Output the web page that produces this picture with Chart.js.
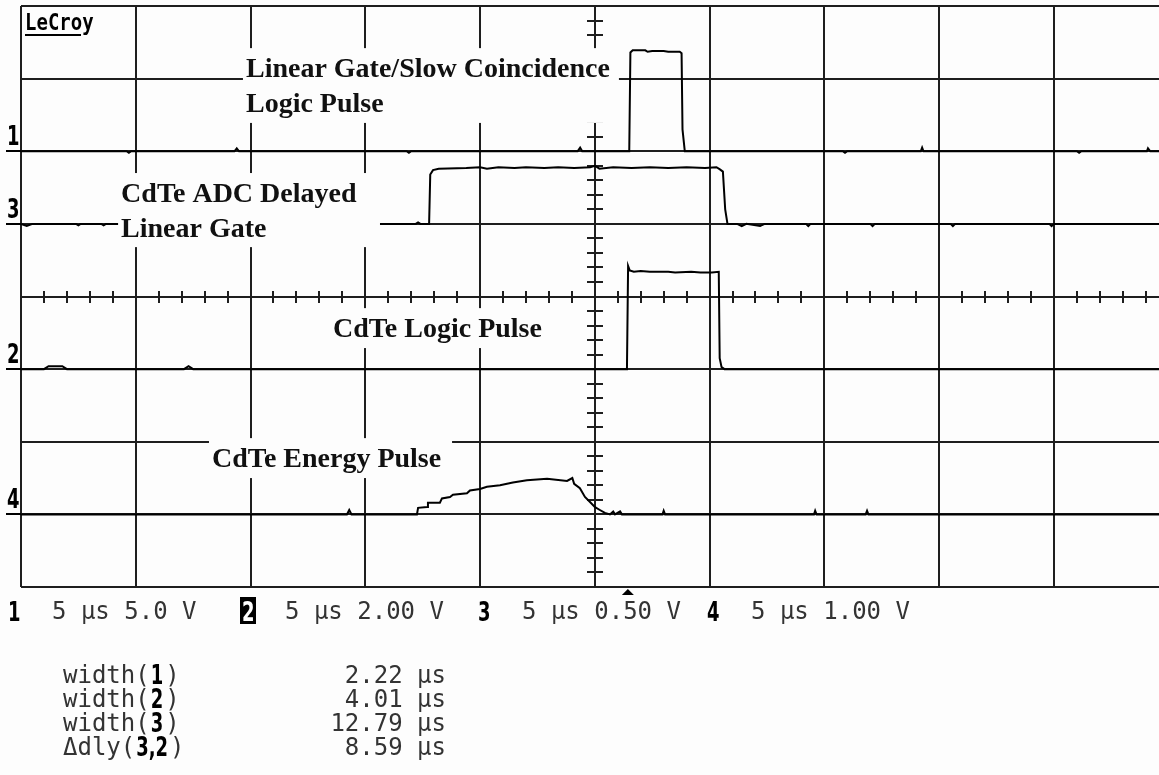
<!DOCTYPE html>
<html lang="en">
<head>
  <meta charset="utf-8">
  <title>LeCroy | CdTe coincidence timing</title>
  <script src="https://cdn.jsdelivr.net/npm/chart.js@4.4.1/dist/chart.umd.min.js"></script>
  <style>
    html, body { margin:0; padding:0; background:#fdfdfd; }
    #scope_wrap { position:relative; width:1159px; height:775px; }
  </style>
</head>
<body>
<div id="scope_wrap"><canvas id="scope" width="1159" height="775"></canvas></div>

<script>
  // time base 5 us/div, trigger at screen centre; vertical values in screen divisions
  var timeLeft = -25, timeRight = 24.58;
  var trigTime = 1.44;

  // channel 1 : linear gate / slow coincidence logic pulse
  var ch1T = [-25, -20.4, -20.3, -20.2, -15.7, -15.6, -15.5, -8.2, -8.1, -8.0, -0.75, -0.64, -0.55,
              1.50, 1.55, 1.65, 2.20, 2.30, 2.50, 3.00, 3.20, 3.70, 3.78, 3.82, 3.92,
              10.8, 10.9, 11.0, 14.2, 14.26, 14.32, 21.0, 21.1, 21.2, 24.05, 24.1, 24.2, 24.58];
  var ch1Y = [2.00, 2.00, 1.98, 2.00, 2.00, 2.04, 2.00, 2.00, 1.98, 2.00, 2.00, 2.05, 2.00,
              2.00, 3.36, 3.39, 3.39, 3.37, 3.38, 3.38, 3.37, 3.37, 3.35, 2.30, 2.00,
              2.00, 1.98, 2.00, 2.00, 2.05, 2.00, 2.00, 1.98, 2.00, 2.00, 2.04, 2.00, 2.00];

  // channel 3 : CdTe ADC delayed linear gate
  var ch3T = [-25, -24.75, -24.5, -22.6, -22.5, -22.4, -21.5, -21.4, -21.3, -9.4, -7.8, -7.7, -7.6,
              -7.22, -7.17, -7.05, -6.80, -5.60, -5.00, -4.70, -4.20, -3.50, -3.00, -2.20, -1.60,
              -0.90, -0.20, 0.00, 0.20, 0.80, 1.60, 2.40, 3.20, 4.00, 4.80, 5.30, 5.45, 5.58, 5.68, 5.78,
              6.2, 6.4, 6.6, 7.2, 7.4, 9.2, 9.3, 9.4, 12.0, 12.1, 12.2, 15.5, 15.6, 15.7, 19.8, 19.9, 20.0, 24.58];
  var ch3Y = [1.00, 0.97, 1.00, 1.00, 0.98, 1.00, 1.00, 0.98, 1.00, 1.00, 1.00, 1.02, 1.00,
              1.00, 1.68, 1.74, 1.76, 1.77, 1.78, 1.76, 1.78, 1.77, 1.78, 1.77, 1.78,
              1.77, 1.78, 1.80, 1.76, 1.78, 1.77, 1.78, 1.77, 1.78, 1.77, 1.78, 1.75, 1.72, 1.20, 1.00,
              1.00, 0.97, 1.00, 0.97, 1.00, 1.00, 0.97, 1.00, 1.00, 0.97, 1.00, 1.00, 0.97, 1.00, 1.00, 0.97, 1.00, 1.00];

  // channel 2 : CdTe logic pulse
  var ch2T = [-25, -24.0, -23.8, -23.2, -23.0, -17.9, -17.7, -17.5, 1.40, 1.45, 1.52, 1.70, 2.00,
              2.40, 3.20, 3.50, 4.20, 4.60, 5.10, 5.40, 5.44, 5.52, 5.65, 24.58];
  var ch2Y = [-1.00, -1.00, -0.96, -0.96, -1.00, -1.00, -0.96, -1.00, -1.00, 0.42, 0.36, 0.34, 0.35,
              0.34, 0.34, 0.33, 0.34, 0.33, 0.33, 0.34, -0.85, -0.97, -1.00, -1.00];

  // channel 4 : CdTe energy pulse
  var ch4T = [-25, -10.8, -10.7, -10.6, -7.75, -7.70, -7.31, -7.27, -6.75, -6.66, -6.31, -6.18,
              -5.57, -5.44, -5.00, -4.70, -4.13, -3.57, -2.96, -2.08, -1.21, -0.98, -0.90, -0.65,
              -0.43, -0.21, 0.01, 0.22, 0.44, 0.66, 0.80, 0.88, 1.10, 1.18, 2.95, 3.00, 3.06,
              9.55, 9.60, 9.66, 11.8, 11.86, 11.92, 24.58];
  var ch4Y = [-3.00, -3.00, -2.94, -3.00, -3.00, -2.91, -2.90, -2.84, -2.84, -2.78, -2.76, -2.73,
              -2.71, -2.67, -2.65, -2.62, -2.60, -2.56, -2.53, -2.51, -2.54, -2.50, -2.58, -2.64,
              -2.76, -2.83, -2.90, -2.94, -2.98, -3.00, -2.96, -3.00, -2.96, -3.00, -3.00, -2.95, -3.00,
              -3.00, -2.95, -3.00, -3.00, -2.95, -3.00, -3.00];

  // channel ground markers on the left edge
  var chNames = ['1', '3', '2', '4'];
  var chLevels = [2, 1, -1, -3];

  // trace captions: box corners in (us, div)
  var captions = [
    {lines: ['Linear Gate/Slow Coincidence', 'Logic Pulse'], t0: -15.33, t1: 1.05, d0: 3.42, d1: 2.39},
    {lines: ['CdTe ADC Delayed', 'Linear Gate'], t0: -20.77, t1: -9.36, d0: 1.70, d1: 0.68},
    {lines: ['CdTe Logic Pulse'], t0: -11.54, t1: -1.87, d0: -0.16, d1: -0.71},
    {lines: ['CdTe Energy Pulse'], t0: -16.81, t1: -6.22, d0: -1.95, d1: -2.50}
  ];

  // channel setup line and measurements
  var setupCh = ['1', '2', '3', '4'];
  var setupText = ['5 \u00b5s 5.0 V', '5 \u00b5s 2.00 V', '5 \u00b5s 0.50 V', '5 \u00b5s 1.00 V'];
  var setupX = [8, 241, 478, 707];
  var measName = [['width(', '1', ')'], ['width(', '2', ')'], ['width(', '3', ')'], ['\u0394dly(', '3,2', ')']];
  var measValue = ['2.22 \u00b5s', '4.01 \u00b5s', '12.79 \u00b5s', '8.59 \u00b5s'];

  var gridColor = '#1e1e1e';
  var ink = '#000';
  var readoutColor = '#333';

  function pts(ts, ys) {
    var out = [];
    for (var i = 0; i < ts.length; i++) out.push({x: ts[i], y: ys[i]});
    return out;
  }

  function trace(ts, ys) {
    return {
      data: pts(ts, ys),
      borderColor: ink,
      borderWidth: 2,
      pointRadius: 0,
      tension: 0,
      fill: false
    };
  }

  // tall narrow bold digits like the scope's channel numbers
  function bigDigit(ctx, s, x, y, color) {
    ctx.save();
    ctx.translate(x, y);
    ctx.scale(0.95, 1.25);
    ctx.font = 'bold 21px "DejaVu Sans Condensed"';
    ctx.fillStyle = color;
    ctx.fillText(s, 0, 0);
    ctx.restore();
  }

  var scopeDecor = {
    id: 'scopeDecor',
    beforeDraw: function(chart) {
      var ctx = chart.ctx;
      ctx.save();
      ctx.fillStyle = '#fdfdfd';
      ctx.fillRect(0, 0, chart.width, chart.height);
      ctx.restore();
    },
    beforeDatasetsDraw: function(chart) {
      // fifth-of-division ticks along the centre cross
      var xs = chart.scales.x, ys = chart.scales.y, ctx = chart.ctx;
      var cx = Math.round(xs.getPixelForValue(0)), cy = Math.round(ys.getPixelForValue(0));
      ctx.save();
      ctx.strokeStyle = gridColor;
      ctx.lineWidth = 2;
      ctx.beginPath();
      for (var i = -20; i <= 20; i++) {
        var py = Math.round(ys.getPixelForValue(i / 5));
        ctx.moveTo(cx - 8, py); ctx.lineTo(cx + 8, py);
      }
      for (var k = -25; k <= timeRight; k++) {
        var px = Math.round(xs.getPixelForValue(k));
        ctx.moveTo(px, cy - 6); ctx.lineTo(px, cy + 6);
      }
      ctx.stroke();
      ctx.restore();
    },
    afterDatasetsDraw: function(chart) {
      var xs = chart.scales.x, ys = chart.scales.y, ctx = chart.ctx;
      ctx.save();

      // caption boxes knock out grid and traces underneath
      ctx.font = 'bold 28px "Liberation Serif"';
      ctx.textBaseline = 'alphabetic';
      captions.forEach(function(c) {
        var x0 = xs.getPixelForValue(c.t0), x1 = xs.getPixelForValue(c.t1);
        var y0 = ys.getPixelForValue(c.d0), y1 = ys.getPixelForValue(c.d1);
        ctx.fillStyle = '#fdfdfd';
        ctx.fillRect(x0, y0, x1 - x0, y1 - y0);
        ctx.fillStyle = '#111';
        c.lines.forEach(function(s, j) {
          ctx.fillText(s, x0 + 3, y0 + 29 + 35 * j);
        });
      });

      // ground level markers
      ctx.strokeStyle = ink;
      ctx.lineWidth = 2;
      chNames.forEach(function(n, i) {
        var py = Math.round(ys.getPixelForValue(chLevels[i]));
        bigDigit(ctx, n, 7, py - 6, '#000');
        ctx.beginPath();
        ctx.moveTo(6, py); ctx.lineTo(chart.chartArea.left, py);
        ctx.stroke();
      });

      // logo
      ctx.save();
      ctx.translate(25, 30);
      ctx.scale(1, 1.2);
      ctx.font = 'bold 19px "DejaVu Sans Mono"';
      ctx.fillStyle = '#000';
      ctx.fillText('LeCroy', 0, 0);
      ctx.restore();
      ctx.fillStyle = '#000';
      ctx.fillRect(25, 34, 56, 2);

      // trigger position arrow under the grid
      var tx = xs.getPixelForValue(trigTime), by = chart.chartArea.bottom;
      ctx.beginPath();
      ctx.moveTo(tx - 6, by + 8);
      ctx.lineTo(tx + 6, by + 8);
      ctx.lineTo(tx, by + 2);
      ctx.closePath();
      ctx.fill();

      // channel setup line
      setupCh.forEach(function(n, i) {
        var x = setupX[i];
        if (n === '2') {
          ctx.fillStyle = '#000';
          ctx.fillRect(x - 1, 597, 16, 27);
          bigDigit(ctx, n, x + 1, 621, '#fff');
        } else {
          bigDigit(ctx, n, x, 621, '#000');
        }
        ctx.fillStyle = readoutColor;
        ctx.font = '24px "DejaVu Sans Mono"';
        ctx.fillText(setupText[i], x + 44, 619);
      });

      // measurement readouts
      measName.forEach(function(parts, i) {
        var y = 683 + 24 * i;
        var x = 63;
        ctx.fillStyle = readoutColor;
        ctx.font = '24px "DejaVu Sans Mono"';
        ctx.fillText(parts[0], x, y);
        x += ctx.measureText(parts[0]).width;
        ctx.font = 'bold 21px "DejaVu Sans Condensed"';
        var w = ctx.measureText(parts[1]).width * 0.95;
        bigDigit(ctx, parts[1], x + 1, y + 1, '#000');
        x += w + 3;
        ctx.fillStyle = readoutColor;
        ctx.font = '24px "DejaVu Sans Mono"';
        ctx.fillText(parts[2], x, y);
        ctx.textAlign = 'right';
        ctx.fillText(measValue[i], 446, y);
        ctx.textAlign = 'left';
      });

      ctx.restore();
    }
  };

  var scope = new Chart(document.getElementById('scope'), {
    type: 'line',
    data: {
      datasets: [trace(ch1T, ch1Y), trace(ch3T, ch3Y), trace(ch2T, ch2Y), trace(ch4T, ch4Y)]
    },
    options: {
      responsive: false,
      animation: false,
      events: [],
      layout: { padding: {left: 21, top: 6, right: 0, bottom: 188}, autoPadding: false },
      plugins: { legend: {display: false}, tooltip: {enabled: false} },
      scales: {
        x: {
          type: 'linear', min: timeLeft, max: timeRight,
          border: {display: false},
          ticks: {display: false, stepSize: 5, includeBounds: false},
          grid: {color: gridColor, lineWidth: 2, drawTicks: false}
        },
        y: {
          type: 'linear', min: -4, max: 4,
          border: {display: false},
          ticks: {display: false, stepSize: 1},
          grid: {color: gridColor, lineWidth: 2, drawTicks: false}
        }
      }
    },
    plugins: [scopeDecor]
  });
</script>
</body>
</html>
